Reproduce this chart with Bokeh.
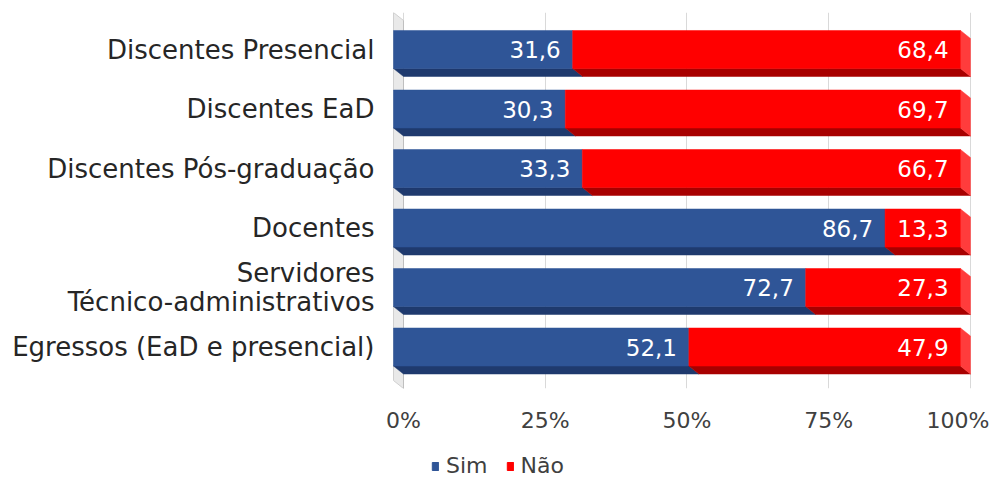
from bokeh.plotting import figure
from bokeh.layouts import column
from bokeh.models import Range1d, FixedTicker, Legend, LegendItem, ColumnDataSource
from bokeh.core.properties import value
from bokeh.embed import file_html
from bokeh.resources import INLINE

categories = ["Discentes Presencial", "Discentes EaD", "Discentes Pós-graduação",
              "Docentes", "Servidores\nTécnico-administrativos", "Egressos (EaD e presencial)"]
sim = [31.6, 30.3, 33.3, 86.7, 72.7, 52.1]
nao = [68.4, 69.7, 66.7, 13.3, 27.3, 47.9]
series_names = ["Sim", "Não"]
xticks = [0, 25, 50, 75, 100]
xtick_labels = ["0%", "25%", "50%", "75%", "100%"]

FONT = "DejaVu Sans"
BLUE, BLUE_D = "#2F5597", "#1F3A6E"
RED, RED_D, RED_S = "#FF0000", "#A80000", "#FF3C3C"

# 3D styling (data units)
DX = 1.764   # horizontal depth
DY = 0.134   # vertical depth
H = 0.639    # bar height
PAD = 2.1

p = figure(width=989, height=452, output_backend="svg", toolbar_location=None,
           x_range=Range1d(-3.175, 102.65), y_range=Range1d(5.697, -0.622),
           min_border_left=385, min_border_right=4, min_border_top=12, min_border_bottom=64)
p.outline_line_color = None
p.background_fill_color = "white"

n = len(categories)
ys = list(range(n))

# left wall
top, bottom = -0.622, 5.697
p.patch([-DX, 0, 0, -DX], [top, top + DY, bottom, bottom - DY],
        fill_color="#E9E9E9", line_color="#D0D0D0", line_width=1)
p.segment(x0=[0], y0=[top + DY], x1=[0], y1=[bottom], line_color="#BFBFBF", line_width=1)

left = [0.0] * n
mid = sim
right = [s + q for s, q in zip(sim, nao)]

# bottom faces
bx, by, bc = [], [], []
for i in range(n):
    yb = ys[i] + H / 2
    bx.append([left[i] - DX, mid[i] - DX, mid[i], left[i]])
    by.append([yb, yb, yb + DY, yb + DY])
    bc.append(BLUE_D)
    bx.append([mid[i] - DX, right[i] - DX, right[i], mid[i]])
    by.append([yb, yb, yb + DY, yb + DY])
    bc.append(RED_D)
p.patches(xs=bx, ys=by, fill_color=bc, line_color=bc, line_width=0.5)

# right side faces
sx, sy = [], []
for i in range(n):
    yt = ys[i] - H / 2
    yb = ys[i] + H / 2
    sx.append([right[i] - DX, right[i], right[i], right[i] - DX])
    sy.append([yt, yt + DY, yb + DY, yb])
p.patches(xs=sx, ys=sy, fill_color=RED_S, line_color=RED_S, line_width=0.5)

# front faces
src = ColumnDataSource(dict(
    y=ys,
    l0=[v - DX for v in left], r0=[v - DX for v in mid],
    l1=[v - DX for v in mid], r1=[v - DX for v in right],
))
p.hbar(y="y", left="l0", right="r0", height=H, source=src,
       fill_color=BLUE, line_color=BLUE, line_width=0.5)
p.hbar(y="y", left="l1", right="r1", height=H, source=src,
       fill_color=RED, line_color=RED, line_width=0.5)

def fmt(v):
    return f"{v:.1f}".replace(".", ",")

lab = ColumnDataSource(dict(
    x=[m - DX - PAD for m in mid] + [r - DX - PAD for r in right],
    y=ys + ys,
    t=[fmt(v) for v in sim] + [fmt(v) for v in nao],
))
p.text(x="x", y="y", text="t", source=lab, text_align="right", text_baseline="middle",
       text_color="white", text_font=value(FONT), text_font_size="23px")

# axes
p.xaxis.ticker = FixedTicker(ticks=xticks)
p.xaxis.major_label_overrides = {t: l for t, l in zip(xticks, xtick_labels)}
p.xaxis.axis_line_color = None
p.xaxis.major_tick_line_color = None
p.xaxis.minor_tick_line_color = None
p.xaxis.major_label_text_font = FONT
p.xaxis.major_label_text_font_size = "22px"
p.xaxis.major_label_text_color = "#404040"
p.xaxis.major_label_standoff = 13

p.yaxis.ticker = FixedTicker(ticks=ys)
p.yaxis.major_label_overrides = {i: c for i, c in zip(ys, categories)}
p.yaxis.axis_line_color = None
p.yaxis.major_tick_line_color = None
p.yaxis.minor_tick_line_color = None
p.yaxis.major_label_text_font = FONT
p.yaxis.major_label_text_font_size = "26px"
p.yaxis.major_label_text_color = "#262626"
p.yaxis.major_label_text_line_height = 0.95
p.yaxis.major_label_standoff = 5

p.xgrid.ticker = FixedTicker(ticks=xticks)
p.xgrid.grid_line_color = "#D9D9D9"
p.ygrid.grid_line_color = None

# legend strip (frame is aligned with the main plot's frame by the column layout)
p2 = figure(width=989, height=28, output_backend="svg", toolbar_location=None,
            x_range=Range1d(0, 1), y_range=Range1d(0, 1),
            min_border_left=0, min_border_right=0, min_border_top=0, min_border_bottom=0)
p2.axis.visible = False
p2.grid.visible = False
p2.outline_line_color = None
# legend-only renderers: a single sample placed outside the visible range
g_sim = p2.hbar(y=[-5], left=[0], right=[1], height=1, fill_color=BLUE, line_color=BLUE)
g_nao = p2.hbar(y=[-5], left=[0], right=[1], height=1, fill_color=RED, line_color=RED)
legend = Legend(items=[LegendItem(label=series_names[0], renderers=[g_sim]),
                       LegendItem(label=series_names[1], renderers=[g_nao])],
                orientation="horizontal", location=(46, 2),
                glyph_width=8, glyph_height=10, label_standoff=7, spacing=18,
                label_height=22,
                padding=0, margin=0, background_fill_alpha=0, border_line_color=None,
                label_text_font=FONT, label_text_font_size="22px", label_text_color="#404040")
p2.add_layout(legend, "center")

layout = column(p, p2, spacing=0)
open("out.html", "w").write(file_html(layout, INLINE))
